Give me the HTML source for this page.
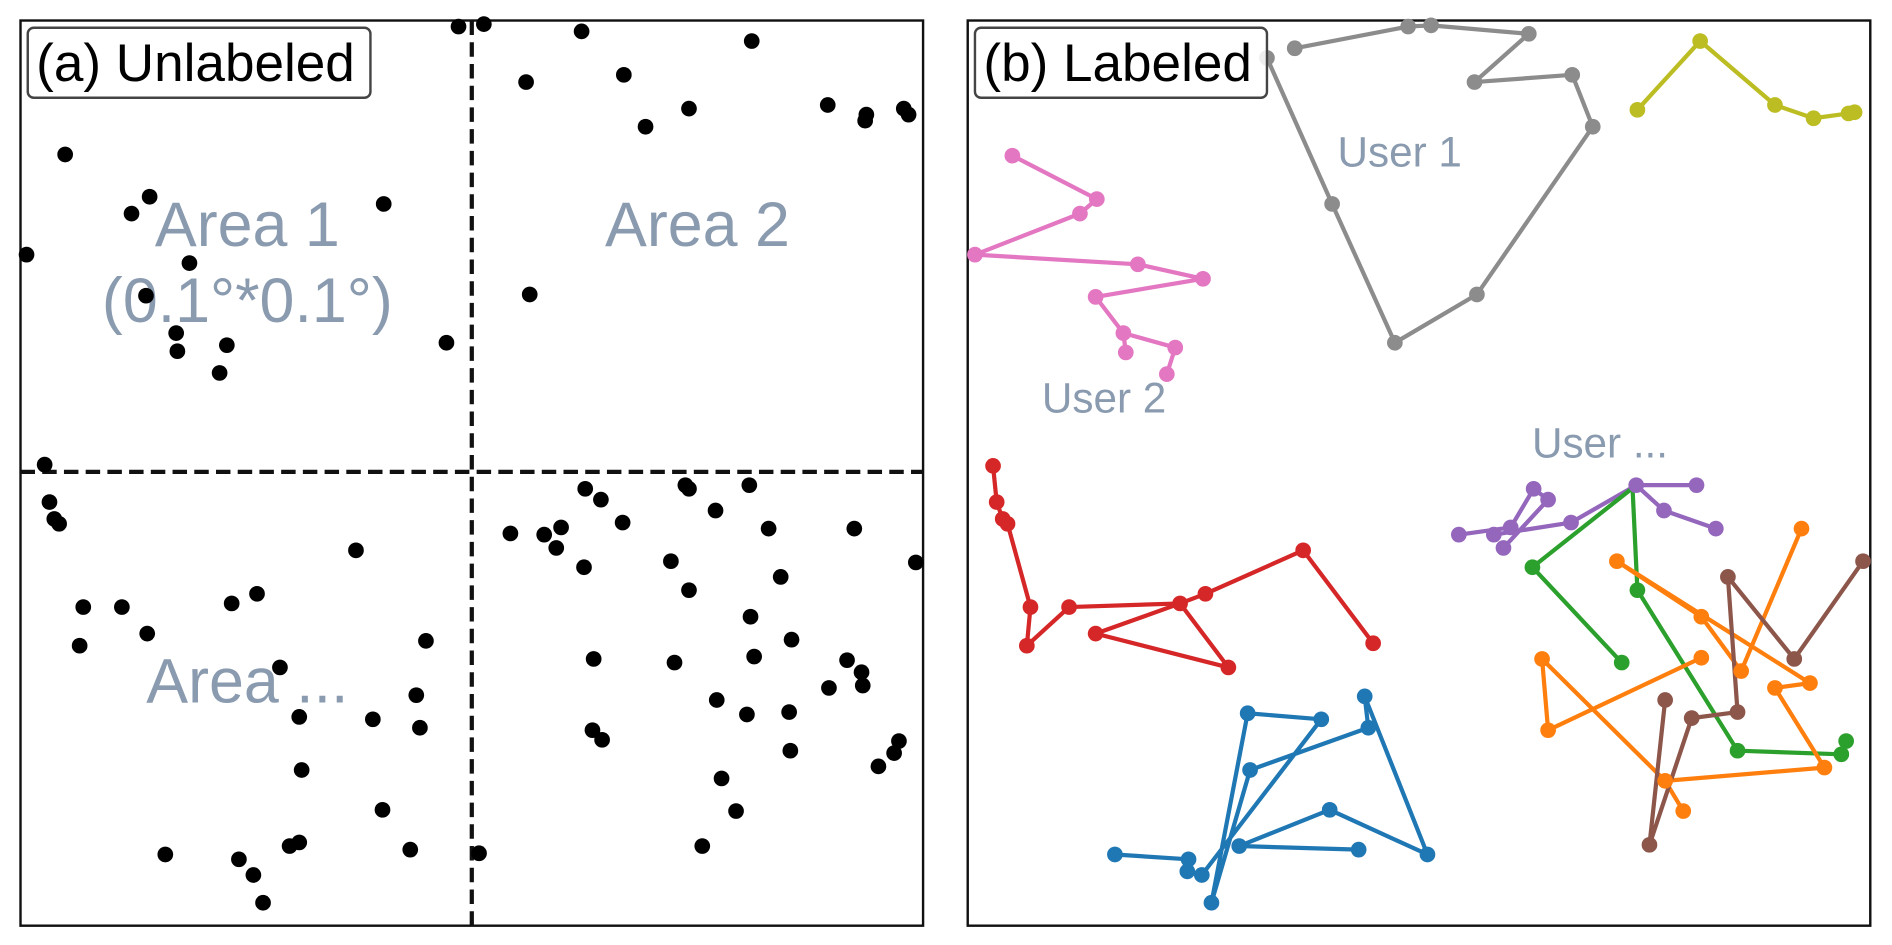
<!DOCTYPE html>
<html><head><style>html,body{margin:0;padding:0;background:#fff}svg{display:block}</style></head>
<body>
<svg width="1892" height="945" viewBox="0 0 1568 783" preserveAspectRatio="none" xmlns="http://www.w3.org/2000/svg" font-family="Liberation Sans, sans-serif">
<rect x="17" y="17" width="748" height="750" fill="none" stroke="#111" stroke-width="2"/>
<rect x="802" y="17" width="748" height="750" fill="none" stroke="#111" stroke-width="2"/>
<line x1="391" y1="17" x2="391" y2="767" stroke="#111" stroke-width="3.5" stroke-dasharray="12,6"/>
<line x1="17" y1="391" x2="765" y2="391" stroke="#111" stroke-width="3.5" stroke-dasharray="12,6"/>
<g fill="#8a9bb0" font-size="52" text-anchor="middle">
<text x="205" y="204">Area 1</text>
<text x="205" y="267">(0.1°*0.1°)</text>
<text x="578" y="204">Area 2</text>
<text x="205" y="582">Area ...</text>
</g>
<g fill="#000">
<circle cx="380" cy="22" r="6.5"/><circle cx="401" cy="20" r="6.5"/><circle cx="482" cy="26" r="6.5"/><circle cx="623" cy="34" r="6.5"/><circle cx="436" cy="68" r="6.5"/><circle cx="517" cy="62" r="6.5"/><circle cx="571" cy="90" r="6.5"/><circle cx="535" cy="105" r="6.5"/><circle cx="686" cy="87" r="6.5"/><circle cx="718" cy="95" r="6.5"/><circle cx="717" cy="100" r="6.5"/><circle cx="749" cy="90" r="6.5"/><circle cx="753" cy="95" r="6.5"/><circle cx="54" cy="128" r="6.5"/><circle cx="124" cy="163" r="6.5"/><circle cx="109" cy="177" r="6.5"/><circle cx="318" cy="169" r="6.5"/><circle cx="22" cy="211" r="6.5"/><circle cx="157" cy="218" r="6.5"/><circle cx="439" cy="244" r="6.5"/><circle cx="121" cy="245" r="6.5"/><circle cx="146" cy="276" r="6.5"/><circle cx="147" cy="291" r="6.5"/><circle cx="188" cy="286" r="6.5"/><circle cx="182" cy="309" r="6.5"/><circle cx="370" cy="284" r="6.5"/><circle cx="37" cy="385" r="6.5"/><circle cx="41" cy="416" r="6.5"/><circle cx="45" cy="430" r="6.5"/><circle cx="49" cy="434" r="6.5"/><circle cx="295" cy="456" r="6.5"/><circle cx="485" cy="405" r="6.5"/><circle cx="498" cy="414" r="6.5"/><circle cx="568" cy="402" r="6.5"/><circle cx="571" cy="405" r="6.5"/><circle cx="621" cy="402" r="6.5"/><circle cx="423" cy="442" r="6.5"/><circle cx="451" cy="443" r="6.5"/><circle cx="465" cy="437" r="6.5"/><circle cx="461" cy="454" r="6.5"/><circle cx="516" cy="433" r="6.5"/><circle cx="593" cy="423" r="6.5"/><circle cx="637" cy="438" r="6.5"/><circle cx="708" cy="438" r="6.5"/><circle cx="484" cy="470" r="6.5"/><circle cx="556" cy="465" r="6.5"/><circle cx="571" cy="489" r="6.5"/><circle cx="647" cy="478" r="6.5"/><circle cx="759" cy="466" r="6.5"/><circle cx="69" cy="503" r="6.5"/><circle cx="101" cy="503" r="6.5"/><circle cx="192" cy="500" r="6.5"/><circle cx="213" cy="492" r="6.5"/><circle cx="122" cy="525" r="6.5"/><circle cx="66" cy="535" r="6.5"/><circle cx="353" cy="531" r="6.5"/><circle cx="622" cy="511" r="6.5"/><circle cx="656" cy="530" r="6.5"/><circle cx="492" cy="546" r="6.5"/><circle cx="559" cy="549" r="6.5"/><circle cx="625" cy="544" r="6.5"/><circle cx="702" cy="547" r="6.5"/><circle cx="714" cy="557" r="6.5"/><circle cx="715" cy="568" r="6.5"/><circle cx="232" cy="553" r="6.5"/><circle cx="345" cy="576" r="6.5"/><circle cx="594" cy="580" r="6.5"/><circle cx="619" cy="592" r="6.5"/><circle cx="654" cy="590" r="6.5"/><circle cx="687" cy="570" r="6.5"/><circle cx="248" cy="594" r="6.5"/><circle cx="309" cy="596" r="6.5"/><circle cx="348" cy="603" r="6.5"/><circle cx="491" cy="605" r="6.5"/><circle cx="499" cy="613" r="6.5"/><circle cx="745" cy="614" r="6.5"/><circle cx="741" cy="624" r="6.5"/><circle cx="728" cy="635" r="6.5"/><circle cx="655" cy="622" r="6.5"/><circle cx="250" cy="638" r="6.5"/><circle cx="598" cy="645" r="6.5"/><circle cx="610" cy="672" r="6.5"/><circle cx="317" cy="671" r="6.5"/><circle cx="137" cy="708" r="6.5"/><circle cx="198" cy="712" r="6.5"/><circle cx="210" cy="725" r="6.5"/><circle cx="218" cy="748" r="6.5"/><circle cx="240" cy="701" r="6.5"/><circle cx="248" cy="698" r="6.5"/><circle cx="340" cy="704" r="6.5"/><circle cx="397" cy="707" r="6.5"/><circle cx="582" cy="701" r="6.5"/>
</g>
<rect x="23" y="23" width="284" height="58" rx="5" fill="#fff" fill-opacity="0.85" stroke="#444" stroke-width="2"/>
<text x="30" y="67" font-size="44" fill="#000">(a) Unlabeled</text>
<g fill="#8a9bb0" font-size="35" text-anchor="middle">
<text x="1160" y="138">User 1</text>
<text x="915" y="342">User 2</text>
<text x="1326" y="379">User ...</text>
</g>
<g fill="none" stroke-width="3.5" stroke-linejoin="round">
<polyline stroke="#8c8c8c" points="1073,40 1167,22 1186,21 1267,28 1222,68 1303,62 1320,105 1224,244 1156,284 1104,169 1050,48"/>
<polyline stroke="#bcbd22" points="1357,91 1409,34 1471,87 1503,98 1532,94 1537,93"/>
<polyline stroke="#e377c2" points="839,129 909,165 895,177 808,211 943,219 997,231 908,246 931,276 974,288 967,310"/>
<polyline stroke="#e377c2" points="931,276 933,292"/>
<polyline stroke="#d62728" points="823,386 826,416 831,430 835,434 854,503 851,535 886,503 978,500 999,492 1080,456 1138,533"/>
<polyline stroke="#d62728" points="978,500 908,525 1018,553 978,500"/>
<polyline stroke="#1f77b4" points="924,708 985,712 984,722"/>
<polyline stroke="#1f77b4" points="1131,577 1134,603 1036,638 1004,748 1034,591 1095,596 996,725"/>
<polyline stroke="#1f77b4" points="1131,577 1183,708 1102,671 1027,701 1126,704"/>
<polyline stroke="#9467bd" points="1209,443 1252,437 1271,405 1283,414 1246,454"/>
<polyline stroke="#9467bd" points="1238,443 1302,433 1356,402 1406,402"/>
<polyline stroke="#9467bd" points="1356,402 1379,423 1422,438"/>
<polyline stroke="#2ca02c" points="1356,402 1270,470 1344,549"/>
<polyline stroke="#2ca02c" points="1353,405 1357,489 1440,622 1526,625 1530,614"/>
<polyline stroke="#ff7f0e" points="1493,438 1443,556 1410,511 1340,465 1500,566 1471,570 1512,636 1380,647 1278,546 1283,605 1410,545"/>
<polyline stroke="#ff7f0e" points="1380,647 1395,672"/>
<polyline stroke="#8c564b" points="1544,465 1487,546 1432,478 1440,590 1402,595 1367,700 1380,580"/>
</g>
<g stroke="none">
<g fill="#8c8c8c"><circle cx="1073" cy="40" r="6.5"/><circle cx="1167" cy="22" r="6.5"/><circle cx="1186" cy="21" r="6.5"/><circle cx="1267" cy="28" r="6.5"/><circle cx="1222" cy="68" r="6.5"/><circle cx="1303" cy="62" r="6.5"/><circle cx="1320" cy="105" r="6.5"/><circle cx="1224" cy="244" r="6.5"/><circle cx="1156" cy="284" r="6.5"/><circle cx="1104" cy="169" r="6.5"/><circle cx="1050" cy="48" r="6.5"/></g>
<g fill="#bcbd22"><circle cx="1357" cy="91" r="6.5"/><circle cx="1409" cy="34" r="6.5"/><circle cx="1471" cy="87" r="6.5"/><circle cx="1503" cy="98" r="6.5"/><circle cx="1532" cy="94" r="6.5"/><circle cx="1537" cy="93" r="6.5"/></g>
<g fill="#e377c2"><circle cx="839" cy="129" r="6.5"/><circle cx="909" cy="165" r="6.5"/><circle cx="895" cy="177" r="6.5"/><circle cx="808" cy="211" r="6.5"/><circle cx="943" cy="219" r="6.5"/><circle cx="997" cy="231" r="6.5"/><circle cx="908" cy="246" r="6.5"/><circle cx="931" cy="276" r="6.5"/><circle cx="974" cy="288" r="6.5"/><circle cx="967" cy="310" r="6.5"/><circle cx="933" cy="292" r="6.5"/></g>
<g fill="#d62728"><circle cx="823" cy="386" r="6.5"/><circle cx="826" cy="416" r="6.5"/><circle cx="831" cy="430" r="6.5"/><circle cx="835" cy="434" r="6.5"/><circle cx="854" cy="503" r="6.5"/><circle cx="851" cy="535" r="6.5"/><circle cx="886" cy="503" r="6.5"/><circle cx="978" cy="500" r="6.5"/><circle cx="999" cy="492" r="6.5"/><circle cx="1080" cy="456" r="6.5"/><circle cx="1138" cy="533" r="6.5"/><circle cx="908" cy="525" r="6.5"/><circle cx="1018" cy="553" r="6.5"/></g>
<g fill="#1f77b4"><circle cx="924" cy="708" r="6.5"/><circle cx="985" cy="712" r="6.5"/><circle cx="984" cy="722" r="6.5"/><circle cx="1131" cy="577" r="6.5"/><circle cx="1134" cy="603" r="6.5"/><circle cx="1036" cy="638" r="6.5"/><circle cx="1004" cy="748" r="6.5"/><circle cx="1034" cy="591" r="6.5"/><circle cx="1095" cy="596" r="6.5"/><circle cx="996" cy="725" r="6.5"/><circle cx="1183" cy="708" r="6.5"/><circle cx="1102" cy="671" r="6.5"/><circle cx="1027" cy="701" r="6.5"/><circle cx="1126" cy="704" r="6.5"/></g>
<g fill="#9467bd"><circle cx="1209" cy="443" r="6.5"/><circle cx="1252" cy="437" r="6.5"/><circle cx="1271" cy="405" r="6.5"/><circle cx="1283" cy="414" r="6.5"/><circle cx="1246" cy="454" r="6.5"/><circle cx="1238" cy="443" r="6.5"/><circle cx="1302" cy="433" r="6.5"/><circle cx="1356" cy="402" r="6.5"/><circle cx="1406" cy="402" r="6.5"/><circle cx="1379" cy="423" r="6.5"/><circle cx="1422" cy="438" r="6.5"/></g>
<g fill="#2ca02c"><circle cx="1270" cy="470" r="6.5"/><circle cx="1344" cy="549" r="6.5"/><circle cx="1357" cy="489" r="6.5"/><circle cx="1440" cy="622" r="6.5"/><circle cx="1526" cy="625" r="6.5"/><circle cx="1530" cy="614" r="6.5"/></g>
<g fill="#ff7f0e"><circle cx="1493" cy="438" r="6.5"/><circle cx="1443" cy="556" r="6.5"/><circle cx="1410" cy="511" r="6.5"/><circle cx="1340" cy="465" r="6.5"/><circle cx="1500" cy="566" r="6.5"/><circle cx="1471" cy="570" r="6.5"/><circle cx="1512" cy="636" r="6.5"/><circle cx="1380" cy="647" r="6.5"/><circle cx="1278" cy="546" r="6.5"/><circle cx="1283" cy="605" r="6.5"/><circle cx="1410" cy="545" r="6.5"/><circle cx="1395" cy="672" r="6.5"/></g>
<g fill="#8c564b"><circle cx="1544" cy="465" r="6.5"/><circle cx="1487" cy="546" r="6.5"/><circle cx="1432" cy="478" r="6.5"/><circle cx="1440" cy="590" r="6.5"/><circle cx="1402" cy="595" r="6.5"/><circle cx="1367" cy="700" r="6.5"/><circle cx="1380" cy="580" r="6.5"/></g>
</g>
<rect x="808" y="23" width="242" height="58" rx="5" fill="#fff" fill-opacity="0.85" stroke="#444" stroke-width="2"/>
<text x="815" y="67" font-size="44" fill="#000">(b) Labeled</text>
</svg>
</body></html>
